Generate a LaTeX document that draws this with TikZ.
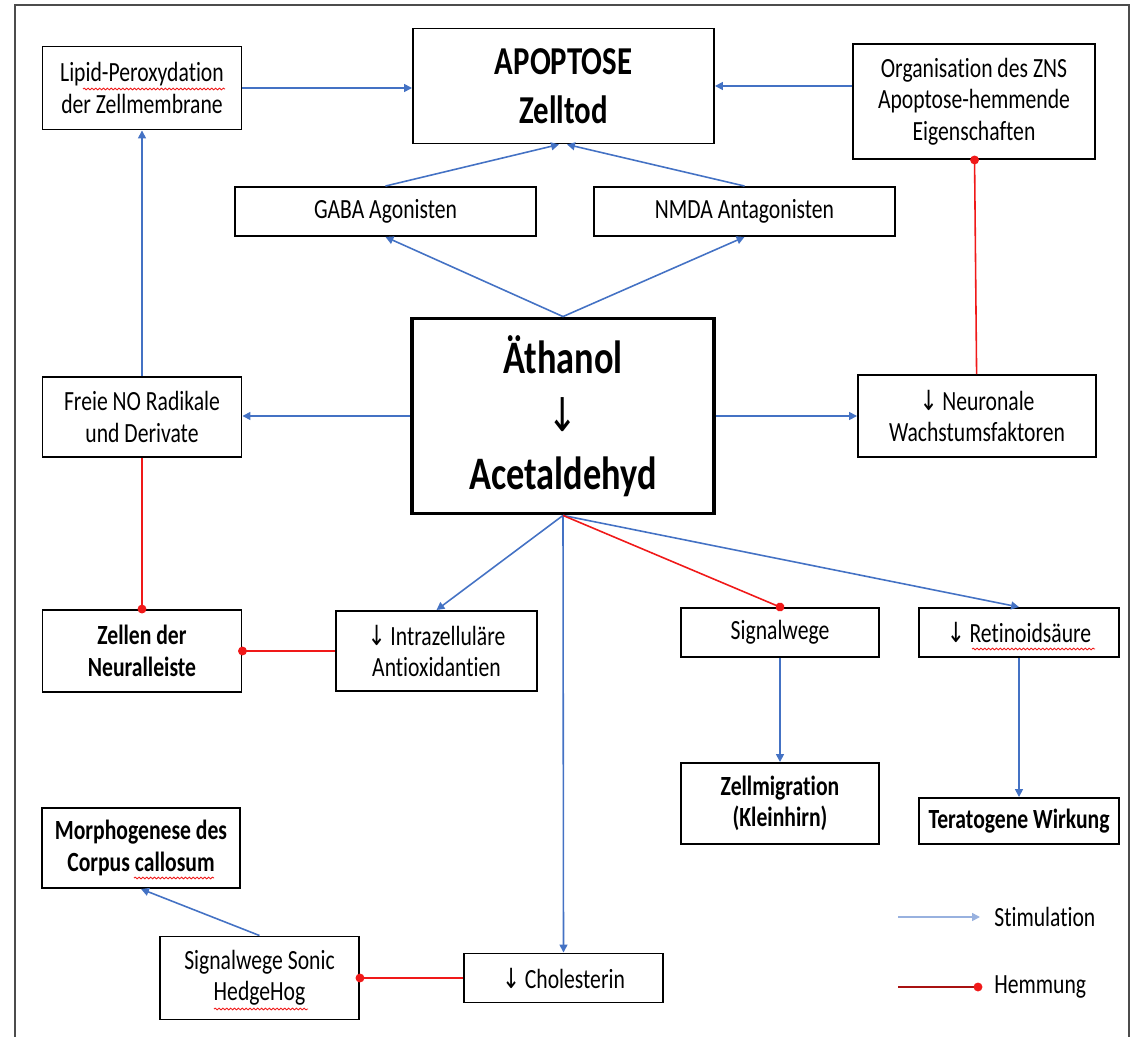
\documentclass[tikz,border=0pt]{standalone}
\usepackage{fontspec}
\setmainfont{Carlito}[FakeStretch=0.78, Ligatures={NoCommon}]
\newfontfamily\arrowfont{DejaVu Sans}[FakeStretch=0.78]
\usetikzlibrary{arrows.meta,decorations.pathmorphing}
\definecolor{stimblue}{RGB}{68,114,196}
\definecolor{hemmred}{RGB}{240,25,25}
\newcommand{\dn}{{\arrowfont\char"2193}\,}
\begin{document}
\begin{tikzpicture}[x=0.02cm, y=-0.02cm, font=\fontsize{15.8}{17.9}\selectfont,
  box/.style={draw, line width=1.1pt, align=center, inner sep=1pt},
  sz/.style 2 args={minimum width=#1*0.02cm, minimum height=#2*0.02cm},
  fett/.style={font=\fontsize{15.8}{17.9}\selectfont\bfseries},
  stim/.style={draw=stimblue, line width=0.9pt, -{Triangle[length=4.5pt,width=4.5pt]}},
  hemm/.style={draw=hemmred, line width=0.9pt, -{Circle[length=5pt,color=hemmred]}, shorten >=-2.5pt},
  squiggle/.style={draw=hemmred, line width=0.5pt, decorate, decoration={snake, amplitude=0.5pt, segment length=2.2pt}}]
  \useasboundingbox (0,0) rectangle (1133,1037);
  % frame
  \draw[line width=1.2pt, black!70] (15,1037) -- (15,5) -- (1129,5) -- (1129,1037);
  % top row
  \node[box, sz={199}{83}] (lipid) at (142,88) {Lipid-Peroxydation\\der Zellmembrane};
  \node[box, sz={301}{115}, font=\fontsize{22.5}{27.8}\selectfont\bfseries] (apop) at (563.5,86) {APOPTOSE\\Zelltod};
  \node[box, sz={242}{115}] (orga) at (974,101.5) {Organisation des ZNS\\Apoptose-hemmende\\Eigenschaften};
  \node[box, sz={301}{49}] (gaba) at (385.5,211.5) {GABA Agonisten};
  \node[box, sz={301}{49}] (nmda) at (744.5,211.5) {NMDA Antagonisten};
  % middle
  \node[box, sz={302}{195}, line width=2.2pt, font=\fontsize{26.5}{33}\selectfont\bfseries] (eth) at (563,416)
    {Äthanol\\{\arrowfont\mdseries\char"2193}\\Acetaldehyd};
  \node[box, sz={199}{80}] (freie) at (142,417) {Freie NO Radikale\\und Derivate};
  \node[box, sz={238}{82}] (neuro) at (977,416) {\dn Neuronale\\Wachstumsfaktoren};
  \node[box, fett, sz={199}{82}] (zellen) at (142,651) {Zellen der\\Neuralleiste};
  \node[box, sz={201}{80}] (intra) at (436.5,651) {\dn Intrazelluläre\\Antioxidantien};
  \node[box, sz={198}{49}] (signal) at (780,632.5) {Signalwege};
  \node[box, sz={200}{49}] (retino) at (1019,632.5) {\dn Retinoidsäure};
  % bottom
  \node[box, fett, sz={198}{81}] (migr) at (780,803.5) {Zellmigration\\(Kleinhirn)};
  \node[box, fett, sz={200}{46}] (terato) at (1019,821) {Teratogene Wirkung};
  \node[box, fett, sz={198}{80}] (morph) at (141,848) {Morphogenese des\\Corpus callosum};
  \node[box, sz={199}{83}] (sonic) at (259.5,978) {Signalwege Sonic\\HedgeHog};
  \node[box, sz={199}{49}] (chol) at (563.5,978) {\dn Cholesterin};
  % stimulation
  \draw[stim] (lipid.east) -- (lipid.east -| apop.west);
  \draw[stim] (orga.west |- apop.east) -- (apop.east);
  \draw[stim] (gaba.north) -- ([xshift=-0.09cm]apop.south);
  \draw[stim] (nmda.north) -- ([xshift=0.07cm]apop.south);
  \draw[stim] (eth.north) -- (gaba.south);
  \draw[stim] (eth.north) -- (nmda.south);
  \draw[stim] (eth.west) -- (eth.west -| freie.east);
  \draw[stim] (eth.east) -- (eth.east -| neuro.west);
  \draw[stim] (freie) -- (lipid);
  \draw[stim] (eth.south) -- (intra.north);
  \draw[stim] (eth.south) -- (chol.north);
  \draw[stim] (eth.south) -- (retino.north);
  \draw[stim] (signal) -- (migr);
  \draw[stim] (retino) -- (terato);
  \draw[stim] (sonic.north) -- (morph.south);
  % hemmung
  \draw[hemm] (freie) -- (zellen);
  \draw[hemm] (intra) -- (zellen);
  \draw[hemm] (neuro) -- (orga);
  \draw[hemm] (eth.south) -- (signal.north);
  \draw[hemm] (chol) -- (sonic);
  % spell check marks
  \draw[squiggle] (83,89) -- (225,89);
  \draw[squiggle] (972,649) -- (1095,649);
  \draw[squiggle] (134,878) -- (214,878);
  \draw[squiggle] (214,1009) -- (308,1009);
  % legend
  \coordinate (st0) at (898,917);
  \coordinate (st1) at (980,917);
  \coordinate (hm0) at (898,987);
  \coordinate (hm1) at (978,987);
  \draw[stim, draw=stimblue!55] (st0) -- (st1);
  \draw[hemm, draw=hemmred!70!black] (hm0) -- (hm1);
  \node[anchor=west, inner sep=0pt] (lstim) at (994,917) {Stimulation};
  \node[anchor=west, inner sep=0pt] (lhemm) at (994,987) {Hemmung};
\end{tikzpicture}
\end{document}
